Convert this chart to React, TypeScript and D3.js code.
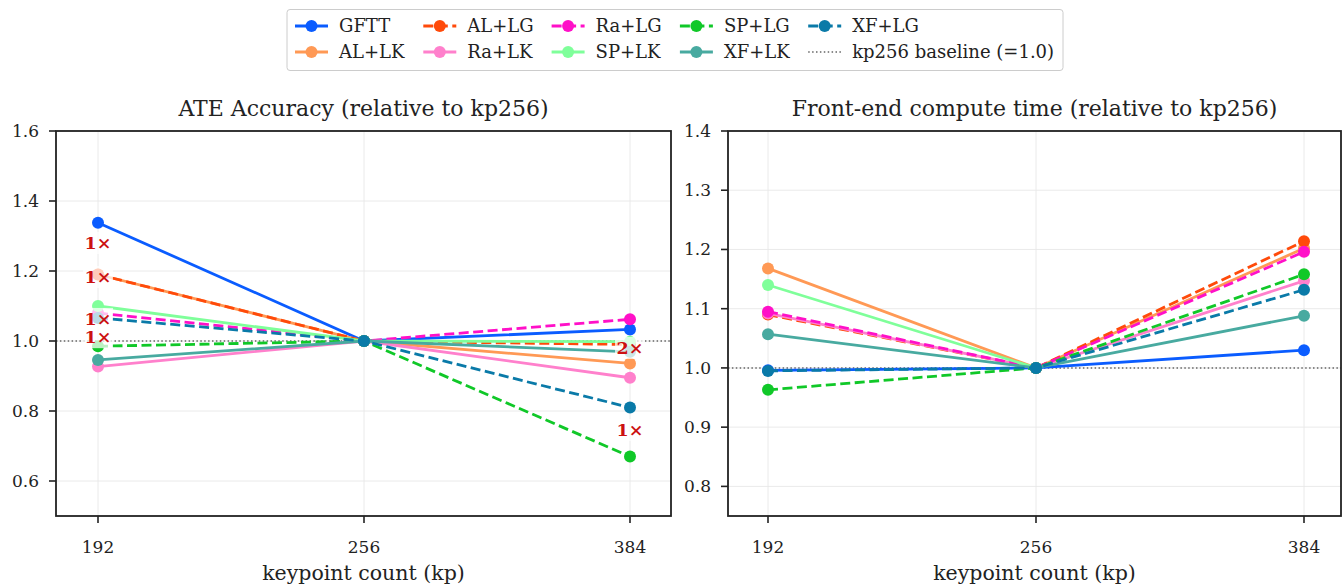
import React from "react";
import * as d3 from "d3";

const categories = [192, 256, 384];
const methods = ["GFTT", "AL+LK", "AL+LG", "Ra+LK", "Ra+LG", "SP+LK", "SP+LG", "XF+LK", "XF+LG"];
const colors = ["#0a5cff", "#ff9955", "#ff4a0a", "#ff80cc", "#ff10c8", "#7fff9a", "#10c828", "#48aaa0", "#0a7aa8"];
const dashed = [false, false, true, false, true, false, true, false, true];

// ATE relative to kp256, per method, at [192, 256, 384]
const ateValues: (number | null)[][] = [
  [1.338, 1.0, 1.033],
  [1.19, 1.0, 0.936],
  [1.19, 1.0, 0.99],
  [0.927, 1.0, 0.895],
  [1.08, 1.0, 1.062],
  [1.1, 1.0, 0.998],
  [0.985, 1.0, 0.67],
  [0.946, 1.0, 0.969],
  [1.066, 1.0, 0.81],
];

// Front-end time relative to kp256
const timeValues: (number | null)[][] = [
  [0.996, 1.0, 1.03],
  [1.168, 1.0, 1.202],
  [1.09, 1.0, 1.214],
  [1.092, 1.0, 1.147],
  [1.095, 1.0, 1.196],
  [1.14, 1.0, null],
  [0.963, 1.0, 1.158],
  [1.057, 1.0, 1.088],
  [0.995, 1.0, 1.132],
];

const ateTicks = [0.6, 0.8, 1.0, 1.2, 1.4, 1.6];
const timeTicks = [0.8, 0.9, 1.0, 1.1, 1.2, 1.3, 1.4];

const ateNotesKp = [192, 192, 192, 192, 384, 384];
const ateNotesY = [1.28, 1.183, 1.063, 1.011, 0.98, 0.746];
const ateNotesText = ["1×", "1×", "1×", "1×", "2×", "1×"];

const FONT = "'DejaVu Serif', serif";

type PanelProps = {
  left: number;
  right: number;
  top: number;
  bottom: number;
  firstX: number;
  lastX: number;
  yDomain: [number, number];
  ticks: number[];
  values: (number | null)[][];
  title: string;
  notes?: { kp: number; y: number; text: string }[];
};

function Panel(p: PanelProps) {
  const x = d3.scaleLinear().domain([0, categories.length - 1]).range([p.firstX, p.lastX]);
  const y = d3.scaleLinear().domain(p.yDomain).range([p.bottom, p.top]);
  const line = d3
    .line<{ i: number; v: number | null }>()
    .defined((d) => d.v !== null)
    .x((d) => x(d.i))
    .y((d) => y(d.v as number));
  const cx = (p.left + p.right) / 2;
  return (
    <g>
      <defs>
        <clipPath id={"clip" + p.left}>
          <rect x={p.left} y={p.top} width={p.right - p.left} height={p.bottom - p.top} />
        </clipPath>
      </defs>
      {p.ticks.map((t) => (
        <line key={"gy" + t} x1={p.left} x2={p.right} y1={y(t)} y2={y(t)} stroke="#e8e8e8" strokeWidth={0.9} />
      ))}
      {categories.map((c, i) => (
        <line key={"gx" + c} x1={x(i)} x2={x(i)} y1={p.top} y2={p.bottom} stroke="#e8e8e8" strokeWidth={0.9} />
      ))}
      <line x1={p.left} x2={p.right} y1={y(1)} y2={y(1)} stroke="#666" strokeWidth={1.5} strokeDasharray="1.5,2.4" />
      <g clipPath={`url(#clip${p.left})`}>
        {p.values.map((vals, m) => {
          const pts = vals.map((v, i) => ({ i, v }));
          return (
            <g key={methods[m]}>
              <path
                d={line(pts) || ""}
                fill="none"
                stroke={colors[m]}
                strokeWidth={2.8}
                strokeDasharray={dashed[m] ? "10,4.5" : undefined}
              />
              {pts
                .filter((d) => d.v !== null)
                .map((d) => (
                  <circle key={d.i} cx={x(d.i)} cy={y(d.v as number)} r={6} fill={colors[m]} />
                ))}
            </g>
          );
        })}
      </g>
      {p.notes &&
        p.notes.map((n, k) => {
          const nx = x(categories.indexOf(n.kp));
          const ny = y(n.y);
          return (
            <g key={"n" + k}>
              <rect x={nx - 15} y={ny - 11} width={30} height={22} fill="#ffffff" fillOpacity={0.72} />
              <text
                x={nx}
                y={ny}
                dy="0.36em"
                textAnchor="middle"
                fill="#cc1111"
                fontFamily={FONT}
                fontWeight="bold"
                fontSize={17.5}
              >
                {n.text}
              </text>
            </g>
          );
        })}
      <rect x={p.left} y={p.top} width={p.right - p.left} height={p.bottom - p.top} fill="none" stroke="#222" strokeWidth={1.8} />
      {p.ticks.map((t) => (
        <g key={"ty" + t}>
          <line x1={p.left - 7} x2={p.left} y1={y(t)} y2={y(t)} stroke="#222" strokeWidth={1.6} />
          <text x={p.left - 17} y={y(t)} dy="0.35em" textAnchor="end" fontFamily={FONT} fontSize={17} fill="#222">
            {t.toFixed(1)}
          </text>
        </g>
      ))}
      {categories.map((c, i) => (
        <g key={"tx" + c}>
          <line x1={x(i)} x2={x(i)} y1={p.bottom} y2={p.bottom + 7} stroke="#222" strokeWidth={1.6} />
          <text x={x(i)} y={p.bottom + 31} dy="0.35em" textAnchor="middle" fontFamily={FONT} fontSize={17} fill="#222">
            {c}
          </text>
        </g>
      ))}
      <text x={cx} y={p.bottom + 57} dy="0.35em" textAnchor="middle" fontFamily={FONT} fontSize={20.5} fill="#222">
        keypoint count (kp)
      </text>
      <text x={cx} y={p.top - 23} dy="0.35em" textAnchor="middle" fontFamily={FONT} fontSize={22} fill="#222">
        {p.title}
      </text>
    </g>
  );
}

function Legend() {
  const labels = [...methods, "kp256 baseline (=1.0)"];
  const colStep = 128.3;
  return (
    <g>
      <rect x={287} y={9.5} width={776} height={61} rx={3} fill="#fff" fillOpacity={0.85} stroke="#cccccc" strokeWidth={1} />
      {labels.map((lab, i) => {
        const col = Math.floor(i / 2);
        const row = i % 2;
        const tx = 339 + col * colStep;
        const ty = 26 + row * 26;
        const isBase = i === methods.length;
        return (
          <g key={lab}>
            {isBase ? (
              <line x1={tx - 44} x2={tx - 11} y1={ty} y2={ty} stroke="#666" strokeWidth={1.5} strokeDasharray="1.5,2.4" />
            ) : (
              <g>
                <line
                  x1={tx - 44}
                  x2={tx - 11}
                  y1={ty}
                  y2={ty}
                  stroke={colors[i]}
                  strokeWidth={2.8}
                  strokeDasharray={dashed[i] ? "10,4.5" : undefined}
                />
                <circle cx={tx - 27.5} cy={ty} r={6} fill={colors[i]} />
              </g>
            )}
            <text x={tx} y={ty} dy="0.35em" fontFamily={FONT} fontSize={18} fill="#222">
              {lab}
            </text>
          </g>
        );
      })}
    </g>
  );
}

export default function App() {
  const notes = ateNotesKp.map((kp, i) => ({ kp, y: ateNotesY[i], text: ateNotesText[i] }));
  return (
    <svg width={1344} height={586} style={{ position: "fixed", left: 0, top: 0, background: "#fff" }}>
      <rect width={1344} height={586} fill="#fff" />
      <Panel
        left={56}
        right={671}
        top={131}
        bottom={516}
        firstX={98}
        lastX={630}
        yDomain={[0.5, 1.6]}
        ticks={ateTicks}
        values={ateValues}
        title="ATE Accuracy (relative to kp256)"
        notes={notes}
      />
      <Panel
        left={728}
        right={1341}
        top={131}
        bottom={516}
        firstX={768}
        lastX={1304}
        yDomain={[0.75, 1.4]}
        ticks={timeTicks}
        values={timeValues}
        title="Front-end compute time (relative to kp256)"
      />
      <Legend />
    </svg>
  );
}
